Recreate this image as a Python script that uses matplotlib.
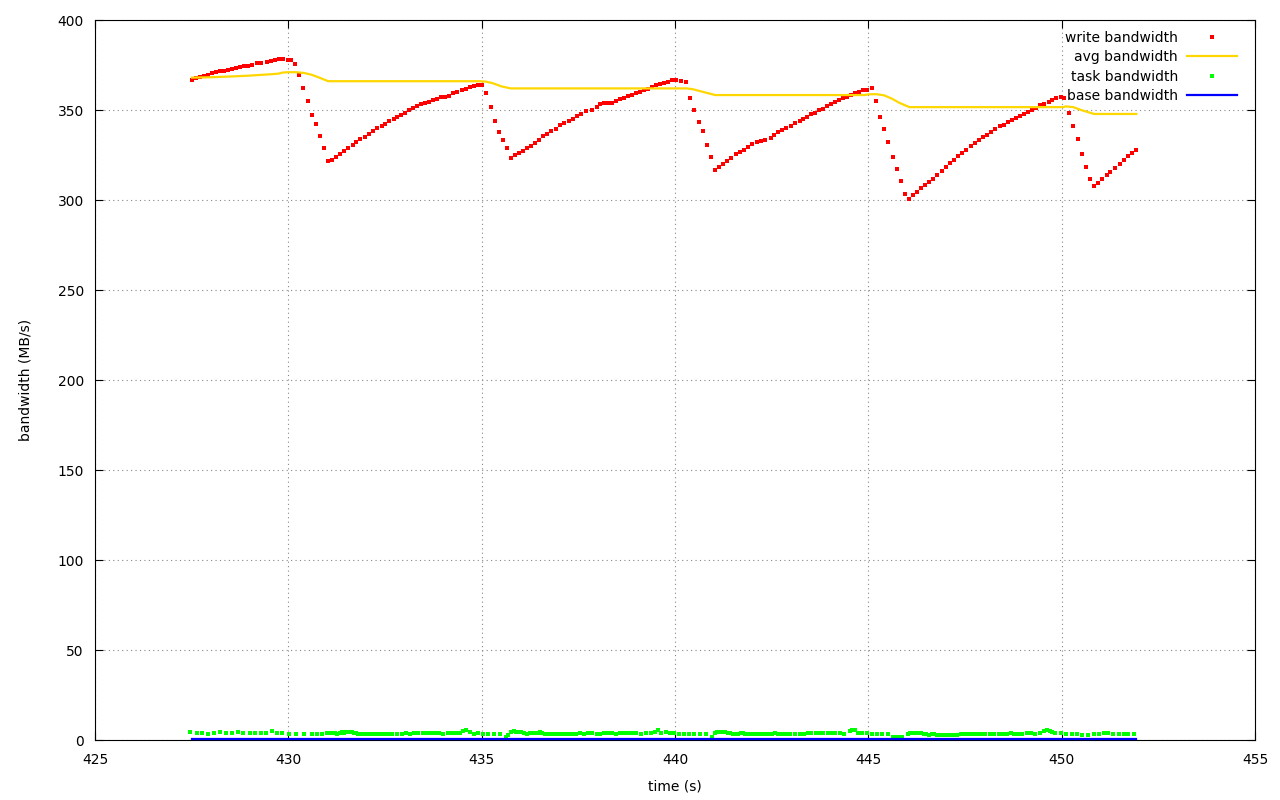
import matplotlib
matplotlib.use("Agg")
import matplotlib.pyplot as plt
from matplotlib.lines import Line2D

# ---------------- data ----------------
write_t = [
    427.51, 427.61, 427.72, 427.82, 427.92, 428.03, 428.13, 428.23, 428.34, 428.44,
    428.54, 428.65, 428.75, 428.85, 428.96, 429.06, 429.20, 429.30, 429.44, 429.54,
    429.65, 429.75, 429.85, 429.99, 430.08, 430.18, 430.28, 430.39, 430.52, 430.62,
    430.72, 430.83, 430.93, 431.03, 431.14, 431.24, 431.34, 431.45, 431.55, 431.66,
    431.76, 431.86, 431.97, 432.09, 432.20, 432.30, 432.41, 432.51, 432.61, 432.72,
    432.82, 432.92, 433.03, 433.13, 433.23, 433.34, 433.44, 433.54, 433.65, 433.75,
    433.85, 433.96, 434.06, 434.16, 434.27, 434.37, 434.49, 434.59, 434.70, 434.80,
    434.91, 435.01,
    435.11, 435.25, 435.35, 435.46, 435.56, 435.66, 435.77, 435.87, 435.97, 436.08,
    436.18, 436.28, 436.39, 436.49, 436.59, 436.70, 436.80, 436.93, 437.03, 437.14,
    437.27, 437.37, 437.47, 437.58, 437.71, 437.86, 437.97, 438.07, 438.17, 438.28,
    438.38, 438.48, 438.59, 438.69, 438.79, 438.90, 439.00, 439.10, 439.21, 439.31,
    439.41, 439.52, 439.62, 439.72, 439.83, 439.93, 440.03, 440.16, 440.29, 440.40,
    440.50, 440.63, 440.73, 440.84, 440.94, 441.04,
    441.15, 441.25, 441.35, 441.46, 441.59, 441.69, 441.79, 441.90, 442.00, 442.13,
    442.23, 442.34, 442.47, 442.57, 442.67, 442.78, 442.88, 443.01, 443.11, 443.22,
    443.32, 443.42, 443.53, 443.63, 443.73, 443.84, 443.94, 444.04, 444.15, 444.25,
    444.35, 444.46, 444.56, 444.66, 444.77, 444.87, 444.97, 445.10, 445.21, 445.31,
    445.41, 445.52, 445.65, 445.75, 445.85, 445.96, 446.06,
    446.16, 446.27, 446.37, 446.47, 446.58, 446.68, 446.78, 446.91, 447.02, 447.12,
    447.22, 447.33, 447.43, 447.53, 447.66, 447.77, 447.87, 447.97, 448.08, 448.18,
    448.28, 448.41, 448.52, 448.62, 448.72, 448.83, 448.93, 449.03, 449.14, 449.24,
    449.34, 449.45, 449.55, 449.66, 449.76, 449.86, 449.97, 450.07, 450.20, 450.30,
    450.43, 450.53, 450.64, 450.74, 450.84, 450.95, 451.05, 451.16, 451.26, 451.39,
    451.52, 451.62, 451.72, 451.83, 451.93,
]
write_bw = [
    366.7, 367.6, 368.1, 368.9, 369.6, 370.4, 370.9, 371.5, 371.5, 372.0,
    372.6, 373.1, 373.7, 374.3, 374.6, 374.8, 375.9, 375.9, 376.7, 377.2,
    377.8, 378.3, 378.3, 377.6, 377.6, 375.4, 369.3, 362.0, 354.8, 347.0,
    342.0, 335.4, 328.7, 321.5, 322.0, 323.7, 325.6, 327.4, 328.7, 330.4,
    332.0, 333.7, 335.2, 336.5, 338.1, 339.8, 340.9, 342.0, 343.7, 344.8,
    345.9, 347.0, 348.1, 349.8, 350.9, 352.0, 353.1, 353.7, 354.4, 355.6,
    356.3, 357.0, 357.4, 357.6, 359.3, 359.8, 361.1, 361.7, 362.8, 363.3,
    364.1, 364.1,
    359.3, 351.5, 343.9, 337.6, 333.1, 328.7, 323.1, 324.8, 325.9, 327.2,
    328.7, 329.8, 331.5, 333.1, 335.4, 336.7, 338.1, 339.3, 341.5, 342.6,
    343.7, 344.8, 346.7, 348.0, 349.3, 349.8, 351.5, 353.1, 353.7, 353.7,
    353.7, 354.8, 355.9, 356.5, 357.6, 358.3, 359.4, 360.0, 361.1, 361.9,
    363.0, 363.9, 364.4, 365.0, 365.6, 366.5, 366.5, 366.1, 365.4, 356.5,
    350.2, 343.1, 338.1, 330.4, 323.7, 316.5,
    318.1, 319.8, 321.5, 323.1, 325.4, 326.5, 327.6, 329.3, 330.9, 332.0,
    332.6, 333.1, 334.3, 335.9, 337.6, 338.7, 339.8, 340.9, 342.6, 343.7,
    344.8, 345.9, 347.6, 348.1, 349.8, 350.4, 352.0, 353.1, 354.3, 355.4,
    356.5, 357.0, 358.1, 359.3, 359.8, 360.9, 360.9, 362.0, 354.8, 345.9,
    339.3, 332.0, 323.7, 317.0, 310.4, 303.1, 300.4,
    302.6, 304.3, 306.5, 308.1, 309.8, 311.5, 313.7, 315.9, 318.1, 320.4,
    322.0, 324.3, 325.9, 327.6, 329.8, 331.5, 333.1, 334.8, 335.9, 337.6,
    339.3, 340.9, 341.5, 343.1, 344.3, 345.4, 346.5, 347.6, 348.7, 349.8,
    350.9, 352.6, 353.1, 354.3, 355.4, 356.5, 357.0, 356.5, 348.1, 340.9,
    333.7, 325.4, 318.1, 311.5, 307.6, 309.3, 311.5, 313.7, 315.4, 317.6,
    319.8, 322.0, 324.3, 325.9, 327.6,
]

avg_t = [
    427.51, 428.0, 428.5, 429.0, 429.5, 429.75, 429.85, 430.0, 430.2, 430.4,
    430.6, 430.8, 431.03, 434.95, 435.1, 435.3, 435.5, 435.75, 440.3, 440.45,
    440.7, 441.04, 444.9, 445.0, 445.2, 445.4, 445.6, 445.8, 446.06, 450.05,
    450.1, 450.3, 450.5, 450.84, 451.93,
]
avg_bw = [
    368.0, 368.2, 368.6, 369.1, 369.8, 370.2, 370.8, 371.0, 371.0, 370.6,
    369.6, 368.0, 366.0, 366.0, 365.8, 364.8, 363.2, 362.0, 362.0, 361.6,
    360.2, 358.3, 358.3, 358.7, 358.8, 358.2, 356.4, 354.0, 351.6, 351.6,
    352.0, 351.6, 350.0, 347.8, 347.8,
]

task_t = [
    427.46, 427.63, 427.76, 427.93, 428.09, 428.24, 428.40, 428.55, 428.69, 428.84,
    429.00, 429.15, 429.29, 429.43, 429.59, 429.71, 429.84, 430.02, 430.21, 430.40,
    430.60, 430.73, 430.86, 431.00, 431.05, 431.10, 431.15, 431.21, 431.27, 431.33,
    431.38, 431.43, 431.48, 431.53, 431.59, 431.64, 431.69, 431.74, 431.79, 431.84,
    431.90, 431.95, 432.00, 432.07, 432.12, 432.19, 432.26, 432.33, 432.41, 432.50,
    432.59, 432.69, 432.81, 432.93, 433.05, 433.15, 433.26, 433.36, 433.48,
    433.58, 433.69, 433.79, 433.90, 434.01, 434.12, 434.22, 434.33, 434.43, 434.53,
    434.60, 434.69, 434.79, 434.91, 435.03, 435.17, 435.33, 435.48, 435.64, 435.69,
    435.76, 435.83, 435.90, 435.97, 436.03, 436.10, 436.17, 436.24, 436.31, 436.38,
    436.45, 436.50, 436.57, 436.64, 436.71, 436.78, 436.84, 436.91, 436.98, 437.05,
    437.12, 437.19, 437.26, 437.33, 437.45, 437.55, 437.65, 437.76, 437.86, 437.97,
    438.07, 438.17, 438.28, 438.38, 438.48, 438.59, 438.69, 438.79, 438.90, 439.00,
    439.12, 439.24, 439.38, 439.48, 439.55, 439.64,
    439.77, 439.87, 439.97, 440.10, 440.23, 440.36, 440.50, 440.65, 440.81, 440.96,
    441.03, 441.09, 441.15, 441.22, 441.29, 441.36, 441.43, 441.50, 441.57, 441.64,
    441.71, 441.76, 441.81, 441.90, 441.98, 442.07, 442.15, 442.24, 442.33, 442.41,
    442.50, 442.59, 442.67, 442.76, 442.86, 442.98, 443.10, 443.22, 443.33, 443.43,
    443.53, 443.64, 443.74, 443.84, 443.95, 444.05, 444.15, 444.26, 444.36, 444.52,
    444.59, 444.65, 444.72, 444.84, 444.96, 445.09, 445.22, 445.36, 445.50, 445.65,
    445.72, 445.79, 445.86,
    446.02, 446.09, 446.15, 446.22, 446.29, 446.36, 446.43, 446.50, 446.57, 446.64,
    446.71, 446.78, 446.84, 446.93, 447.02, 447.10, 447.21, 447.29, 447.40, 447.50,
    447.60, 447.71, 447.81, 447.91, 448.02, 448.14, 448.26, 448.38, 448.48, 448.59,
    448.69, 448.78, 448.88, 448.98, 449.10, 449.21, 449.31, 449.43, 449.55, 449.62,
    449.69, 449.76, 449.84, 449.97, 450.10, 450.26, 450.40, 450.53, 450.67, 450.83,
    450.97, 451.10, 451.21, 451.34, 451.47, 451.60, 451.72, 451.86,
]
task_bw = [
    4.4, 3.7, 3.7, 3.1, 3.7, 4.3, 3.7, 3.9, 4.3, 3.7,
    3.7, 3.7, 3.7, 3.7, 4.8, 3.7, 3.7, 3.1, 3.1, 3.1,
    3.1, 3.1, 3.1, 3.7, 3.7, 3.7, 3.7, 3.7, 3.1, 3.7,
    4.3, 3.7, 4.3, 4.4, 4.4, 4.4, 3.7, 3.7, 3.1, 3.1,
    3.1, 3.1, 3.1, 3.1, 3.1, 3.1, 3.1, 3.1, 3.1, 3.1,
    3.1, 3.1, 3.1, 3.1, 3.7, 3.1, 3.7, 3.7, 3.7,
    3.7, 3.7, 3.7, 3.7, 3.1, 3.7, 3.7, 3.7, 3.7, 4.8,
    5.6, 4.4, 3.1, 3.7, 3.1, 3.1, 3.1, 3.1, 1.9, 2.6,
    4.3, 4.8, 4.3, 4.3, 4.3, 3.7, 3.1, 3.7, 3.7, 3.7,
    3.7, 4.4, 3.7, 3.1, 3.1, 3.1, 3.1, 3.1, 3.1, 3.1,
    3.1, 3.1, 3.1, 3.1, 3.1, 3.7, 3.1, 3.7, 3.7, 3.1,
    3.1, 3.7, 3.7, 3.7, 3.1, 3.7, 3.7, 3.7, 3.7, 3.7,
    3.1, 3.7, 3.7, 4.4, 5.6, 3.7,
    4.4, 3.7, 3.7, 3.1, 3.1, 3.1, 3.1, 3.1, 3.1, 1.5,
    3.7, 4.4, 4.4, 4.4, 4.3, 3.7, 3.7, 3.1, 3.1, 3.1,
    3.7, 3.7, 3.1, 3.1, 3.1, 3.1, 3.1, 3.1, 3.1, 3.1,
    3.1, 3.7, 3.1, 3.1, 3.1, 3.1, 3.1, 3.1, 3.1, 3.7,
    3.7, 3.7, 3.7, 3.7, 3.7, 3.7, 3.7, 3.7, 3.1, 4.8,
    5.6, 5.6, 3.7, 3.7, 3.7, 3.1, 3.1, 3.1, 3.1, 1.9,
    1.9, 1.9, 1.5,
    3.1, 3.7, 3.7, 3.7, 3.7, 3.7, 3.1, 3.1, 2.6, 3.1,
    3.1, 2.6, 2.6, 2.6, 2.6, 2.6, 2.6, 2.6, 3.1, 3.1,
    3.1, 3.1, 3.1, 3.1, 3.1, 3.1, 3.1, 3.1, 3.1, 3.1,
    3.7, 3.1, 3.1, 3.1, 3.7, 3.7, 3.1, 3.7, 4.8, 5.6,
    4.8, 4.3, 3.7, 3.7, 3.1, 3.1, 3.1, 2.6, 2.6, 3.1,
    3.1, 3.7, 3.7, 3.1, 3.1, 3.1, 3.1, 3.1,
]

base_t = [427.51, 451.93]
base_bw = [0.4, 0.4]

series_labels = ["write bandwidth", "avg bandwidth", "task bandwidth", "base bandwidth"]
x_ticks = [425, 430, 435, 440, 445, 450, 455]
y_ticks = [0, 50, 100, 150, 200, 250, 300, 350, 400]

# ---------------- figure ----------------
plt.rcParams['font.family'] = ['DejaVu Sans']
fig = plt.figure(figsize=(12.8, 8.0), dpi=100)
ax = fig.add_axes([95 / 1280, 60 / 800, 1160 / 1280, 720 / 800])

ax.plot(write_t, write_bw, linestyle='none', marker='s', markersize=2.9,
        markeredgewidth=0, color='#ff0000', zorder=3)
ax.plot(avg_t, avg_bw, color='#ffd700', linewidth=1.6, zorder=4)
ax.plot(task_t, task_bw, linestyle='none', marker='s', markersize=2.2,
        markeredgewidth=0, color='#00ff00', zorder=5)
ax.plot(base_t, base_bw, color='#0000ff', linewidth=1.6, zorder=6, clip_on=False)

ax.set_xlim(425, 455)
ax.set_ylim(0, 400)
ax.set_xticks(x_ticks)
ax.set_yticks(y_ticks)
ax.tick_params(direction='in', length=6, width=0.8, top=True, right=True,
               labelsize=10, pad=8, colors='black')
ax.tick_params(axis='x', pad=9)
ax.grid(True, color='#888888', linestyle=(0, (1, 3)), linewidth=0.8)
for s in ax.spines.values():
    s.set_linewidth(0.8)
    s.set_color('black')

ax.set_xlabel("time (s)", fontsize=10, labelpad=9)
ax.set_ylabel("bandwidth (MB/s)", fontsize=10, labelpad=18)

handles = [
    Line2D([], [], linestyle='none', marker='s', markersize=2.9, markeredgewidth=0, color='#ff0000'),
    Line2D([], [], color='#ffd700', linewidth=1.6),
    Line2D([], [], linestyle='none', marker='s', markersize=2.2, markeredgewidth=0, color='#00ff00'),
    Line2D([], [], color='#0000ff', linewidth=1.6),
]
leg = fig.legend(handles, series_labels, loc='upper right',
                 bbox_to_anchor=(1237 / 1280, 1 - 31 / 800),
                 frameon=False, markerfirst=False, fontsize=10,
                 handlelength=3.6, handletextpad=0.65, labelspacing=0.38,
                 borderpad=0, borderaxespad=0)

fig.savefig("out.png", dpi=100)
